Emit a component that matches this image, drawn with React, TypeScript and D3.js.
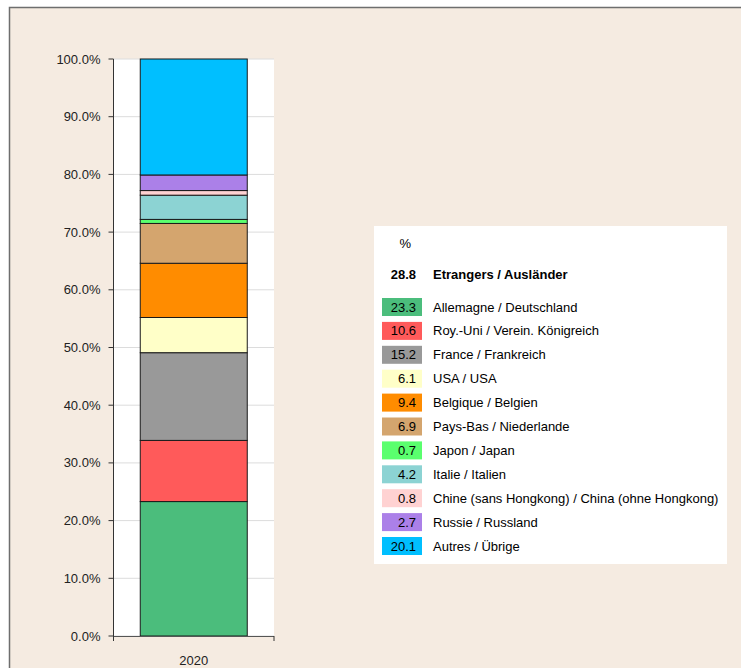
import React from "react";
import * as d3 from "d3";

// nationalities, share of residents in %
const categories = [
  "Allemagne / Deutschland",
  "Roy.-Uni / Verein. Königreich",
  "France / Frankreich",
  "USA / USA",
  "Belgique / Belgien",
  "Pays-Bas / Niederlande",
  "Japon / Japan",
  "Italie / Italien",
  "Chine (sans Hongkong) / China (ohne Hongkong)",
  "Russie / Russland",
  "Autres / Übrige",
];
const values = [23.3, 10.6, 15.2, 6.1, 9.4, 6.9, 0.7, 4.2, 0.8, 2.7, 20.1];
const colors = [
  "#4bbd7c",
  "#ff5a5a",
  "#999999",
  "#ffffc8",
  "#ff8c00",
  "#d4a56e",
  "#5aff6e",
  "#8cd3d3",
  "#ffd2d2",
  "#ab80e8",
  "#00bfff",
];
const years = ["2020"];
const totalLabel = "Etrangers / Ausländer";
const totalValue = 28.8;
const yTicks = [0, 10, 20, 30, 40, 50, 60, 70, 80, 90, 100];

const FONT = "'Liberation Sans', Arial, sans-serif";

export default function App() {
  const plot = { left: 113.5, right: 274, top: 59, bottom: 636 };

  const y = d3.scaleLinear().domain([0, 100]).range([plot.bottom, plot.top]);
  const x = d3
    .scaleBand()
    .domain(years)
    .range([plot.left, plot.right])
    .paddingInner(0)
    .paddingOuter(0.25);

  // stack the shares
  const stacked = d3
    .stack<any>()
    .keys(categories.map((c, i) => String(i)))([
      Object.fromEntries(values.map((v, i) => [String(i), v])),
    ]);

  const fmt = d3.format(".1f");
  const legendX = 374;
  const rowY = d3.scalePoint().domain(categories).range([307, 546]);

  return (
    <svg
      width={741}
      height={668}
      style={{ position: "absolute", left: 0, top: 0, display: "block" }}
      fontFamily={FONT}
    >
      <rect x={0} y={0} width={741} height={668} fill="#ffffff" />
      <rect
        x={9.5}
        y={7.5}
        width={800}
        height={700}
        fill="#f5ebe1"
        stroke="#6e6e6e"
        strokeWidth={1.5}
      />

      {/* plot area */}
      <rect
        x={plot.left}
        y={plot.top}
        width={plot.right - plot.left}
        height={plot.bottom - plot.top}
        fill="#ffffff"
      />
      {yTicks.map((t) => (
        <g key={t}>
          <line
            x1={plot.left}
            x2={plot.right}
            y1={y(t)}
            y2={y(t)}
            stroke="#dcdcdc"
          />
          <line
            x1={plot.left - 5}
            x2={plot.left}
            y1={y(t)}
            y2={y(t)}
            stroke="#333"
          />
          <text
            x={plot.left - 13}
            y={y(t)}
            dy="0.35em"
            textAnchor="end"
            fontSize={13}
            fill="#222"
          >
            {fmt(t)}%
          </text>
        </g>
      ))}

      {/* stacked bar */}
      {stacked.map((s, i) =>
        s.map((d, j) => (
          <rect
            key={i + "-" + j}
            x={x(years[j])!}
            y={y(d[1])}
            width={x.bandwidth()}
            height={y(d[0]) - y(d[1])}
            fill={colors[i]}
            stroke="#1a1a1a"
            strokeWidth={1}
          />
        ))
      )}

      {/* axes */}
      <line
        x1={plot.left}
        x2={plot.left}
        y1={plot.top}
        y2={plot.bottom}
        stroke="#333"
      />
      <line
        x1={plot.left}
        x2={plot.right}
        y1={plot.bottom + 0.5}
        y2={plot.bottom + 0.5}
        stroke="#555"
      />
      {[plot.left, plot.right].map((px) => (
        <line
          key={px}
          x1={px}
          x2={px}
          y1={plot.bottom}
          y2={plot.bottom + 5}
          stroke="#333"
        />
      ))}
      {years.map((yr) => (
        <text
          key={yr}
          x={x(yr)! + x.bandwidth() / 2}
          y={660}
          dy="0.35em"
          textAnchor="middle"
          fontSize={13}
          fill="#222"
        >
          {yr}
        </text>
      ))}

      {/* legend */}
      <rect x={legendX} y={226} width={353} height={338} fill="#ffffff" />
      <text x={411} y={243} dy="0.35em" textAnchor="end" fontSize={13}>
        %
      </text>
      <text
        x={416}
        y={274}
        dy="0.35em"
        textAnchor="end"
        fontSize={13}
        fontWeight="bold"
      >
        {fmt(totalValue)}
      </text>
      <text x={433} y={274} dy="0.35em" fontSize={13} fontWeight="bold">
        {totalLabel}
      </text>
      {categories.map((c, i) => {
        const cy = rowY(c)!;
        return (
          <g key={c}>
            <rect
              x={382}
              y={cy - 9}
              width={40}
              height={18}
              fill={colors[i]}
            />
            <text x={416} y={cy} dy="0.35em" textAnchor="end" fontSize={13}>
              {fmt(values[i])}
            </text>
            <text x={433} y={cy} dy="0.35em" fontSize={13}>
              {c}
            </text>
          </g>
        );
      })}
    </svg>
  );
}
